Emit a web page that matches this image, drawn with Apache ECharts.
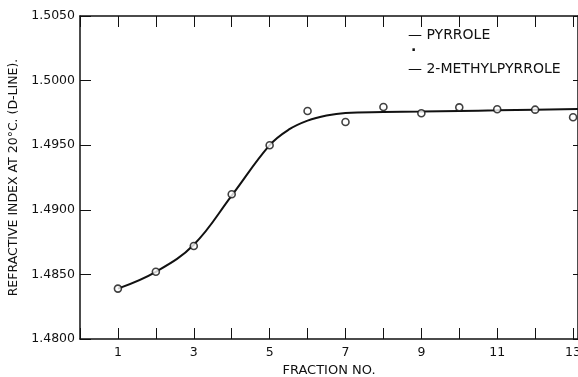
<!DOCTYPE html>
<html>
<head>
<meta charset="utf-8">
<script src="https://cdn.jsdelivr.net/npm/echarts@6/dist/echarts.min.js"></script>
<style>
  html, body { margin: 0; background: #fff; }
  #chart { width: 578px; height: 377px; }
</style>
</head>
<body>
<div id="chart"></div>
<script>
// measured fractions (open circles)
const fractions = [1, 2, 3, 4, 5, 6, 7, 8, 9, 10, 11, 12, 13];
const refractiveIndex = [1.4839, 1.4852, 1.4872, 1.4912, 1.4950, 1.49765, 1.4968, 1.49796, 1.49747, 1.49793, 1.49778, 1.49775, 1.49716];

// hand-drawn smooth curve
const curveFractions = [1, 2, 3, 4, 5, 5.5, 6, 6.5, 7, 8, 9, 10, 11, 12, 13.13];
const curveIndex = [1.4839, 1.4852, 1.4873, 1.4911, 1.4950, 1.4962, 1.4969, 1.4973, 1.4975, 1.49757, 1.49760, 1.49765, 1.49770, 1.49775, 1.49780];

const xLabelFractions = [1, 3, 5, 7, 9, 11, 13];
const legendLines = ['— PYRROLE', '·', '— 2-METHYLPYRROLE'];

const ink = '#111';
const font = 'DejaVu Sans';

const chart = echarts.init(document.getElementById('chart'), null, { renderer: 'canvas' });

const frameAxis = {
  axisLine: { show: true, onZero: false, lineStyle: { color: ink, width: 1.5 } },
  axisTick: { show: true, inside: true, length: 11, lineStyle: { color: ink, width: 1 } },
  splitLine: { show: false },
};

chart.setOption({
  animation: false,
  backgroundColor: '#fff',
  grid: { left: 80, right: 0, top: 16, bottom: 38, outerBoundsMode: 'none', containLabel: false },
  xAxis: [
    {
      ...frameAxis,
      type: 'value', position: 'bottom',
      min: 0, max: 13.13, interval: 1,
      axisLabel: {
        color: ink, fontFamily: font, fontSize: 12.5, margin: 7, showMaxLabel: true,
        formatter: (v) => (xLabelFractions.includes(v) ? String(v) : ''),
      },
      name: 'FRACTION NO.', nameLocation: 'middle', nameGap: 24,
      nameTextStyle: { color: ink, fontFamily: font, fontSize: 13 },
    },
    {
      ...frameAxis,
      type: 'value', position: 'top',
      min: 0, max: 13.13, interval: 1,
      axisLabel: { show: false },
    },
  ],
  yAxis: [
    {
      ...frameAxis,
      type: 'value', position: 'left',
      min: 1.48, max: 1.505, interval: 0.005,
      axisLabel: {
        color: ink, fontFamily: font, fontSize: 12.5, margin: 5,
        formatter: (v) => v.toFixed(4),
      },
      name: 'REFRACTIVE INDEX AT 20°C. (D-LINE).', nameLocation: 'middle', nameGap: 54,
      nameTextStyle: { color: ink, fontFamily: font, fontSize: 12.5 },
    },
    {
      ...frameAxis,
      type: 'value', position: 'right',
      min: 1.48, max: 1.505, interval: 0.005,
      axisTick: { show: true, inside: true, length: 5, lineStyle: { color: ink, width: 1 } },
      axisLabel: { show: false },
    },
  ],
  graphic: legendLines.map((t, i) => ({
    type: 'text',
    left: t === '·' ? 411 : 408,
    top: [28, 44, 62][i],
    style: { text: t, fill: ink, font: `${t === '·' ? 'bold ' : ''}14px "${font}"` },
  })),
  series: [
    {
      type: 'line',
      data: curveFractions.map((x, i) => [x, curveIndex[i]]),
      smooth: 0.4,
      showSymbol: false,
      lineStyle: { color: ink, width: 2 },
      z: 2,
    },
    {
      type: 'scatter',
      data: fractions.map((x, i) => [x, refractiveIndex[i]]),
      symbol: 'circle',
      symbolSize: 7,
      itemStyle: { color: '#fff', borderColor: ink, borderWidth: 1.6 },
      z: 3,
    },
  ],
});
</script>
</body>
</html>
